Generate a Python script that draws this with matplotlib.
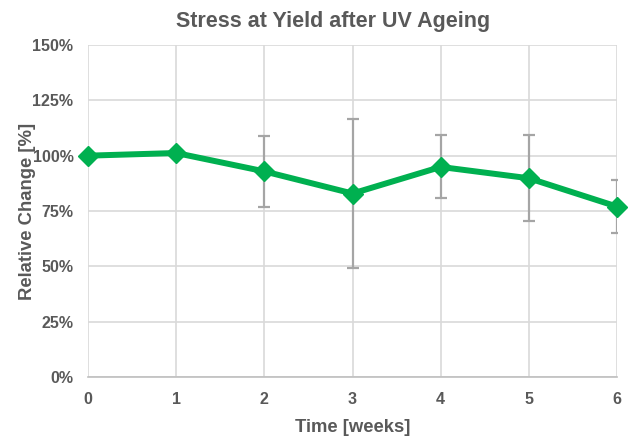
import numpy as np
import matplotlib
matplotlib.use("Agg")
import matplotlib.pyplot as plt
from matplotlib.ticker import PercentFormatter

plt.rcParams['font.family'] = ['Liberation Sans', 'DejaVu Sans']

# data
weeks = [0, 1, 2, 3, 4, 5, 6]
rel_change = [100.0, 101.2, 92.9, 82.9, 94.9, 89.8, 77.0]
err_upper = [100.0, 101.2, 109.1, 116.5, 109.4, 109.3, 89.2]
err_lower = [100.0, 101.2, 76.9, 49.3, 80.8, 70.4, 65.0]
yticks = [0, 25, 50, 75, 100, 125, 150]

y = np.array(rel_change)
yerr = [y - np.array(err_lower), np.array(err_upper) - y]

text_col = '#595959'
grid_col = '#D9D9D9'

fig = plt.figure(figsize=(6.29, 4.37), dpi=100)
ax = fig.add_axes([88 / 629, 60 / 437, 529 / 629, 332 / 437])

ax.errorbar(weeks, y, yerr=yerr, fmt='none', ecolor='#A5A5A5',
            elinewidth=1.6, capsize=4, capthick=1.6, zorder=3)
ax.plot(weeks, y, color='#00B050', lw=4.3, marker='D', ms=10,
        zorder=4, clip_on=False)

ax.set_xlim(0, 6)
ax.set_ylim(0, 150)
ax.set_xticks(weeks)
ax.set_yticks(yticks)
ax.yaxis.set_major_formatter(PercentFormatter(decimals=0))
ax.grid(True, color=grid_col, lw=1.2)
ax.set_axisbelow(True)
for s in ['top', 'right', 'left']:
    ax.spines[s].set_visible(False)
ax.spines['bottom'].set_color('#BFBFBF')
ax.spines['bottom'].set_linewidth(1.2)
ax.tick_params(length=0, colors=text_col, labelsize=11.5, pad=10.5)
for lab in ax.get_xticklabels() + ax.get_yticklabels():
    lab.set_fontweight('bold')

ax.set_title('Stress at Yield after UV Ageing', fontsize=15.5, fontweight='bold',
             color=text_col, pad=13, x=0.463)
ax.set_xlabel('Time [weeks]', fontsize=13.3, fontweight='bold', color=text_col, labelpad=9)
ax.set_ylabel('Relative Change [%]', fontsize=13.3, fontweight='bold', color=text_col)
ax.yaxis.set_label_coords(-0.099, 0.5)

fig.savefig('out.png', dpi=100)
